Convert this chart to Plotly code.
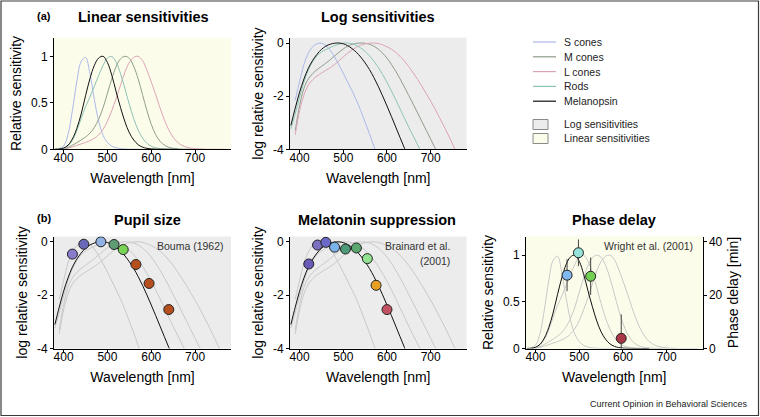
import numpy as np
import plotly.graph_objects as go

# ---------------- data ----------------
N = None
wavelength = list(range(380, 790, 10))  # nm

s_cone_log = [N, -2.15, -1.45, -0.80, -0.38, -0.14, -0.025, -0.005, -0.09, -0.27, -0.52,
              -0.82, -1.14, -1.47, -1.80, -2.15, -2.55, -2.98, -3.42, -3.88, -4.32] + [N] * 20
m_cone_log = [N, -3.30, -2.35, -1.70, -1.35, -1.15, -1.00, -0.88, -0.76, -0.63, -0.49,
              -0.35, -0.22, -0.12, -0.05, -0.012, 0.0, -0.01, -0.05, -0.12, -0.23,
              -0.38, -0.57, -0.80, -1.06, -1.35, -1.66, -1.98, -2.30, -2.63, -2.96,
              -3.29, -3.62, -3.95, -4.28] + [N] * 6
l_cone_log = [N, -3.45, -2.55, -1.95, -1.58, -1.38, -1.24, -1.13, -1.03, -0.93, -0.81,
              -0.67, -0.52, -0.38, -0.26, -0.16, -0.08, -0.03, -0.005, 0.0, -0.02,
              -0.07, -0.14, -0.23, -0.35, -0.50, -0.68, -0.89, -1.12, -1.37, -1.63,
              -1.91, -2.19, -2.48, -2.80, -3.12, -3.45, -3.80, -4.15, -4.50, N]
rod_log = [-3.23, -2.66, -2.03, -1.46, -1.02, -0.70, -0.48, -0.34, -0.25, -0.17, -0.10,
           -0.044, -0.008, -0.001, -0.029, -0.091, -0.187, -0.318, -0.483, -0.683, -0.917,
           -1.184, -1.48, -1.80, -2.13, -2.48, -2.83, -3.17, -3.50, -3.83, -4.15,
           -4.47] + [N] * 9
mel_log = [-3.10, -2.45, -1.85, -1.35, -0.95, -0.65, -0.42, -0.24, -0.12, -0.045, -0.008,
           0.0, -0.03, -0.10, -0.21, -0.35, -0.53, -0.75, -1.00, -1.30, -1.63,
           -1.99, -2.37, -2.76, -3.16, -3.56, -3.96, -4.36, -4.76] + [N] * 12

receptor_names = ["S cones", "M cones", "L cones", "Rods", "Melanopsin"]
receptor_colors = ["#a9b8ea", "#8f9c8a", "#dca3b6", "#8cc3b6", "#111111"]

# Pupil size (Bouma 1962)
pupil_wl = [420, 446, 485, 515, 536, 565, 595, 640]
pupil_log = [-0.46, -0.09, 0.0, -0.10, -0.29, -0.85, -1.56, -2.54]
pupil_colors = ["#8a7ccc", "#6a68b8", "#8fb2e2", "#5f9c74", "#78d455",
                "#b5501e", "#b5501e", "#b5501e"]

# Melatonin suppression (Brainard et al. 2001)
mel_sup_wl = [421, 441, 460, 480, 505, 530, 555, 575, 600]
mel_sup_log = [-0.83, -0.12, -0.02, -0.20, -0.27, -0.23, -0.63, -1.63, -2.54]
mel_sup_colors = ["#6a5ab8", "#7a70c0", "#6b6ac8", "#7ab2ea", "#4c9a78",
                  "#5aa870", "#92e292", "#e8a022", "#c25262"]

# Phase delay (Wright et al. 2001)
phase_wl = [472, 498, 526, 596]
phase_min = [27.5, 35.9, 27.1, 3.8]
phase_err = [6.0, 5.0, 7.0, 9.0]
phase_colors = ["#80b8f0", "#94e2d8", "#72d052", "#a83848"]

legend_box_labels = ["Log sensitivities", "Linear sensitivities"]

# ---------------- helpers ----------------
W, H = 760, 417
FONT = "Liberation Sans, Arial, Helvetica, sans-serif"
LOG_BG = "#ececec"
LIN_BG = "#fcfcea"
GRAY = "#c8c8c8"


def px(x):
    return x / W


def py(y):
    return 1 - y / H


def to_lin(arr):
    a = np.array([np.nan if v is None else v for v in arr], dtype=float)
    return np.power(10.0, a)


def to_arr(arr):
    return np.array([np.nan if v is None else v for v in arr], dtype=float)


logs = [s_cone_log, m_cone_log, l_cone_log, rod_log, mel_log]

fig = go.Figure()

line_kw = dict(mode="lines", line_shape="spline", showlegend=False, hoverinfo="skip")

# top-left linear, top-middle log
for name, col, lg in zip(receptor_names, receptor_colors, logs):
    fig.add_trace(go.Scatter(x=wavelength, y=to_lin(lg), xaxis="x", yaxis="y",
                             line=dict(color=col, width=1), name=name, **line_kw))
for name, col, lg in zip(receptor_names, receptor_colors, logs):
    fig.add_trace(go.Scatter(x=wavelength, y=to_arr(lg), xaxis="x2", yaxis="y2",
                             line=dict(color=col, width=1), name=name, **line_kw))

# bottom panels: gray curves + black melanopsin
for xa, ya, lin in [("x3", "y3", False), ("x4", "y4", False), ("x5", "y5", True)]:
    for name, lg in zip(receptor_names[:4], logs[:4]):
        yv = to_lin(lg) if lin else to_arr(lg)
        fig.add_trace(go.Scatter(x=wavelength, y=yv, xaxis=xa, yaxis=ya,
                                 line=dict(color=GRAY, width=1), name=name, **line_kw))
    yv = to_lin(mel_log) if lin else to_arr(mel_log)
    fig.add_trace(go.Scatter(x=wavelength, y=yv, xaxis=xa, yaxis=ya,
                             line=dict(color="#111111", width=1), name="Melanopsin", **line_kw))

marker_line = dict(color="#222222", width=1)
fig.add_trace(go.Scatter(x=pupil_wl, y=pupil_log, xaxis="x3", yaxis="y3", mode="markers",
                         marker=dict(size=10, color=pupil_colors, line=marker_line),
                         showlegend=False, name="Pupil"))
fig.add_trace(go.Scatter(x=mel_sup_wl, y=mel_sup_log, xaxis="x4", yaxis="y4", mode="markers",
                         marker=dict(size=10, color=mel_sup_colors, line=marker_line),
                         showlegend=False, name="Melatonin"))
fig.add_trace(go.Scatter(x=phase_wl, y=phase_min, xaxis="x5", yaxis="y6", mode="markers",
                         marker=dict(size=10, color=phase_colors, line=marker_line),
                         error_y=dict(type="data", array=phase_err, color="#444444",
                                      thickness=1, width=0),
                         showlegend=False, name="Phase delay"))

# ---------------- axes ----------------
def xax(d0, d1, anchor):
    return dict(domain=[px(d0), px(d1)], range=[378, 782], anchor=anchor,
                tickvals=[400, 500, 600, 700], ticks="outside", ticklen=3,
                tickcolor="black", showline=True, linecolor="black", linewidth=1,
                showgrid=False, zeroline=False, automargin=False, ticklabelstandoff=-6,
                tickfont=dict(size=12, color="black"),
                title=dict(text="Wavelength [nm]", font=dict(size=14, color="black"),
                           standoff=9))


def yax(top, bottom, anchor, lin, title):
    d = dict(domain=[py(bottom), py(top)], anchor=anchor, ticks="outside", ticklen=3,
             tickcolor="black", showline=True, linecolor="black", linewidth=1,
             showgrid=False, zeroline=False, automargin=False,
             tickfont=dict(size=12, color="black"),
             title=dict(text=title, font=dict(size=14, color="black"), standoff=6))
    if lin:
        d.update(range=[0, 1.2], tickvals=[0, 0.5, 1], ticktext=["0", "0.5", "1"])
    else:
        d.update(range=[-4, 0.2], tickvals=[-4, -2, 0], ticktext=["-4", "-2", "0"])
    return d


TOP_T, TOP_B = 37.7, 149.3
BOT_T, BOT_B = 236.5, 348.5

fig.update_layout(
    xaxis=xax(54, 231, "y"),
    yaxis=yax(TOP_T, TOP_B, "x", True, "Relative sensitivity"),
    xaxis2=xax(290, 466.5, "y2"),
    yaxis2=yax(TOP_T, TOP_B, "x2", False, "log relative sensitivity"),
    xaxis3=xax(54, 231, "y3"),
    yaxis3=yax(BOT_T, BOT_B, "x3", False, "log relative sensitivity"),
    xaxis4=xax(290, 466.5, "y4"),
    yaxis4=yax(BOT_T, BOT_B, "x4", False, "log relative sensitivity"),
    xaxis5=xax(526, 702.5, "y5"),
    yaxis5=yax(BOT_T, BOT_B, "x5", True, "Relative sensitivity"),
    yaxis6=dict(domain=[py(BOT_B), py(BOT_T)], anchor="x5", overlaying="y5", side="right",
                range=[0, 42], tickvals=[0, 20, 40], ticks="outside", ticklen=3,
                tickcolor="black", showline=True, linecolor="black", linewidth=1,
                showgrid=False, zeroline=False, automargin=False,
                tickfont=dict(size=12, color="black"),
                title=dict(text="Phase delay [min]", font=dict(size=14, color="black"),
                           standoff=6)),
)

# ---------------- backgrounds ----------------
shapes = []
for xr, yr, col in [("x", "y", LIN_BG), ("x2", "y2", LOG_BG), ("x3", "y3", LOG_BG),
                    ("x4", "y4", LOG_BG), ("x5", "y5", LIN_BG)]:
    shapes.append(dict(type="rect", xref=f"{xr} domain", yref=f"{yr} domain",
                       x0=0, x1=1, y0=0, y1=1, fillcolor=col, line=dict(width=0),
                       layer="below"))

# outer frame
shapes.append(dict(type="rect", xref="paper", yref="paper", x0=px(1), x1=px(758.5),
                   y0=py(415.5), y1=py(1), line=dict(color="#3a3a3a", width=1.2)))

# legend keys
leg_y = [42, 56.8, 71.6, 86.4, 101.2]
for yy, col in zip(leg_y, receptor_colors):
    shapes.append(dict(type="line", xref="paper", yref="paper", x0=px(533), x1=px(556),
                       y0=py(yy), y1=py(yy), line=dict(color=col, width=1.2)))
box_y = [124.5, 138.5]
for yy, col in zip(box_y, [LOG_BG, LIN_BG]):
    shapes.append(dict(type="rect", xref="paper", yref="paper", x0=px(533), x1=px(548),
                       y0=py(yy + 5), y1=py(yy - 5), fillcolor=col,
                       line=dict(color="#8a8a8a", width=1)))

annotations = []


def ann(text, x, y, size, xanchor="center", color="black", bold=False):
    annotations.append(dict(text=f"<b>{text}</b>" if bold else text, x=px(x), y=py(y),
                            xref="paper", yref="paper", xanchor=xanchor, yanchor="middle",
                            showarrow=False, font=dict(size=size, color=color, family=FONT)))


for yy, name in zip(leg_y, receptor_names):
    ann(name, 562, yy, 10.5, "left", "#222222")
for yy, name in zip(box_y, legend_box_labels):
    ann(name, 562, yy, 10.5, "left", "#222222")

ann("(a)", 43.5, 16, 11, bold=True)
ann("(b)", 43.5, 217.5, 11, bold=True)
ann("Linear sensitivities", 143, 17, 14.5, bold=True)
ann("Log sensitivities", 377.5, 17, 14.5, bold=True)
ann("Pupil size", 147.5, 220, 14.5, bold=True)
ann("Melatonin suppression", 377, 220, 14.5, bold=True)
ann("Phase delay", 613.5, 220, 14.5, bold=True)
ann("Bouma (1962)", 225.5, 245.7, 10.5, "right", "#333333")
ann("Brainard et al.", 451.7, 245.7, 10.5, "right", "#333333")
ann("(2001)", 451.7, 261, 10.5, "right", "#333333")
ann("Wright et al. (2001)", 695, 245.7, 10.5, "right", "#333333")
ann("Current Opinion in Behavioral Sciences", 750, 404, 9, "right", "#222222")

fig.update_layout(width=W, height=H, margin=dict(l=0, r=0, t=0, b=0),
                  paper_bgcolor="white", plot_bgcolor="rgba(0,0,0,0)",
                  font=dict(family=FONT, color="black"), showlegend=False,
                  shapes=shapes, annotations=annotations)

fig.write_html("out.html", config={"displayModeBar": False},
               post_script="document.body.style.margin='0px';document.body.style.overflow='hidden';")
